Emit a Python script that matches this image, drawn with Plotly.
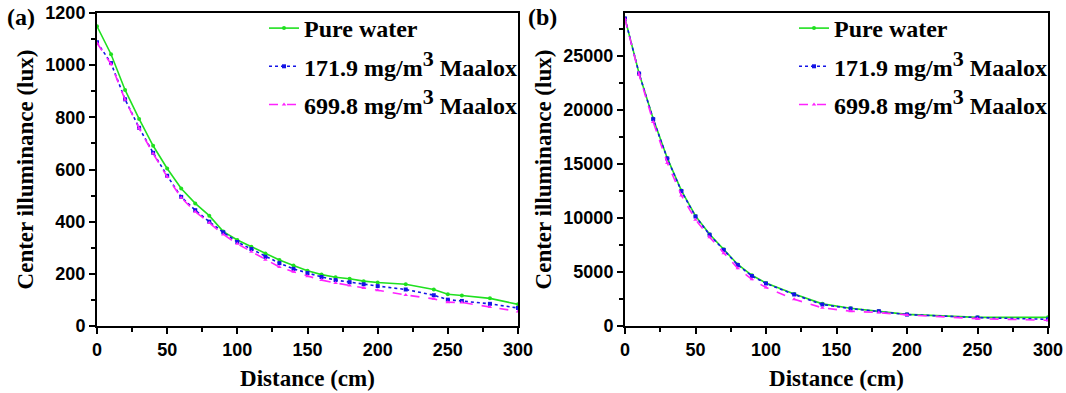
import plotly.graph_objects as go

# Panel (a) data
xa = [0, 10, 20, 30, 40, 50, 60, 70, 80, 90, 100, 110, 120, 130, 140, 150, 160, 170, 180, 190, 200, 220, 240, 250, 260, 280, 300]
a_pure = [1149, 1042, 905, 794, 691, 604, 527, 470, 423, 362, 330, 304, 278, 253, 232, 212, 197, 187, 181, 172, 167, 160, 140, 122, 117, 106, 83]
a_1719 = [1088, 1008, 869, 760, 664, 576, 495, 444, 400, 359, 322, 295, 265, 241, 219, 203, 188, 176, 168, 160, 153, 140, 118, 101, 96, 85, 69]
a_6998 = [1085, 1004, 867, 758, 661, 572, 492, 438, 396, 351, 315, 285, 254, 226, 208, 191, 176, 165, 155, 146, 137, 119, 104, 91, 90, 73, 56]

# Panel (b) data
xb = [0, 10, 20, 30, 40, 50, 60, 70, 80, 90, 100, 120, 140, 160, 180, 200, 250, 300]
b_pure = [28500, 23400, 19200, 15550, 12550, 10200, 8500, 7100, 5700, 4700, 3980, 2960, 2050, 1650, 1400, 1080, 800, 800]
b_1719 = [28480, 23390, 19160, 15520, 12500, 10150, 8450, 7050, 5650, 4630, 3940, 2920, 1990, 1615, 1370, 1060, 780, 620]
b_6998 = [28450, 23300, 18900, 15100, 12100, 9850, 8230, 6740, 5340, 4320, 3570, 2480, 1680, 1370, 1240, 1030, 680, 530]

names = ["Pure water",
         "171.9 mg/m<sup><span style='font-size:22px'>3</span></sup> Maalox",
         "699.8 mg/m<sup><span style='font-size:22px'>3</span></sup> Maalox"]
colors = ["#1fe01f", "#1414e6", "#ff22ff"]
dashes = ["solid", "dot", "dash"]
symbols = ["circle", "square", "triangle-up"]

SERIF = "Liberation Serif"
SANS = "Liberation Sans"

fig = go.Figure()

def add_panel(x, series, xaxis, yaxis, legend, tag):
    for i, (ys, nm, c, d, s) in enumerate(zip(series, names, colors, dashes, symbols)):
        fig.add_trace(go.Scatter(
            x=x, y=ys, name=nm, mode="lines+markers",
            line=dict(color=c, dash=d, width=1.6),
            marker=dict(color=c, size=4, symbol=s),
            xaxis=xaxis, yaxis=yaxis, legend=legend,
            legendgroup=f"{tag}{i}",
        ))

add_panel(xa, [a_pure, a_1719, a_6998], "x", "y", "legend", "a")
add_panel(xb, [b_pure, b_1719, b_6998], "x2", "y2", "legend2", "b")

tickfont = dict(family=SANS, size=18, color="black", weight="bold")
titlefont = dict(family=SERIF, size=23, color="black", weight="bold")

common_x = dict(range=[0, 300], tickvals=[0, 50, 100, 150, 200, 250, 300],
                ticks="outside", ticklen=6, tickwidth=2, tickcolor="black",
                minor=dict(ticks="outside", ticklen=4, tickwidth=2, tickcolor="black", dtick=25, tick0=0),
                showline=True, linewidth=2, linecolor="black", mirror=True,
                showgrid=False, zeroline=False, tickfont=tickfont, automargin=False,
                title=dict(text="Distance (cm)", font=titlefont, standoff=11))
common_y = dict(ticks="outside", ticklen=6, tickwidth=2, tickcolor="black",
                showline=True, linewidth=2, linecolor="black", mirror=True,
                showgrid=False, zeroline=False, tickfont=tickfont, automargin=False,
                tickformat="d",
                title=dict(text="Center illuminance (lux)", font=titlefont, standoff=5))

legfont = dict(family=SERIF, size=24, color="black", weight="bold")

ydom = [1 - 326 / 393, 1 - 13 / 393]
fig.update_layout(
    width=1066, height=393,
    margin=dict(l=0, r=0, t=0, b=0, autoexpand=False),
    paper_bgcolor="white", plot_bgcolor="white",
    xaxis=dict(domain=[97 / 1066, 518 / 1066], anchor="y", **common_x),
    yaxis=dict(domain=ydom, anchor="x", range=[0, 1200], dtick=200,
               minor=dict(ticks="outside", ticklen=4, tickwidth=2, tickcolor="black", dtick=100, tick0=0),
               **common_y),
    xaxis2=dict(domain=[625 / 1066, 1048 / 1066], anchor="y2", **common_x),
    yaxis2=dict(domain=ydom, anchor="x2", range=[0, 29000], dtick=5000,
                minor=dict(ticks="outside", ticklen=4, tickwidth=2, tickcolor="black", dtick=2500, tick0=0),
                **common_y),
    legend=dict(x=264 / 1066, y=1 - 6 / 393, xanchor="left", yanchor="top",
                bgcolor="rgba(0,0,0,0)", borderwidth=0, font=legfont,
                itemwidth=30, tracegroupgap=4),
    legend2=dict(x=794 / 1066, y=1 - 6 / 393, xanchor="left", yanchor="top",
                 bgcolor="rgba(0,0,0,0)", borderwidth=0, font=legfont,
                 itemwidth=30, tracegroupgap=4),
    annotations=[
        dict(text="(a)", x=5 / 1066, y=1 - 2 / 393, xref="paper", yref="paper",
             xanchor="left", yanchor="top", showarrow=False,
             font=dict(family=SERIF, size=24, color="black", weight="bold")),
        dict(text="(b)", x=526 / 1066, y=1 - 2 / 393, xref="paper", yref="paper",
             xanchor="left", yanchor="top", showarrow=False,
             font=dict(family=SERIF, size=24, color="black", weight="bold")),
    ],
)

fig.write_html("out.html")
